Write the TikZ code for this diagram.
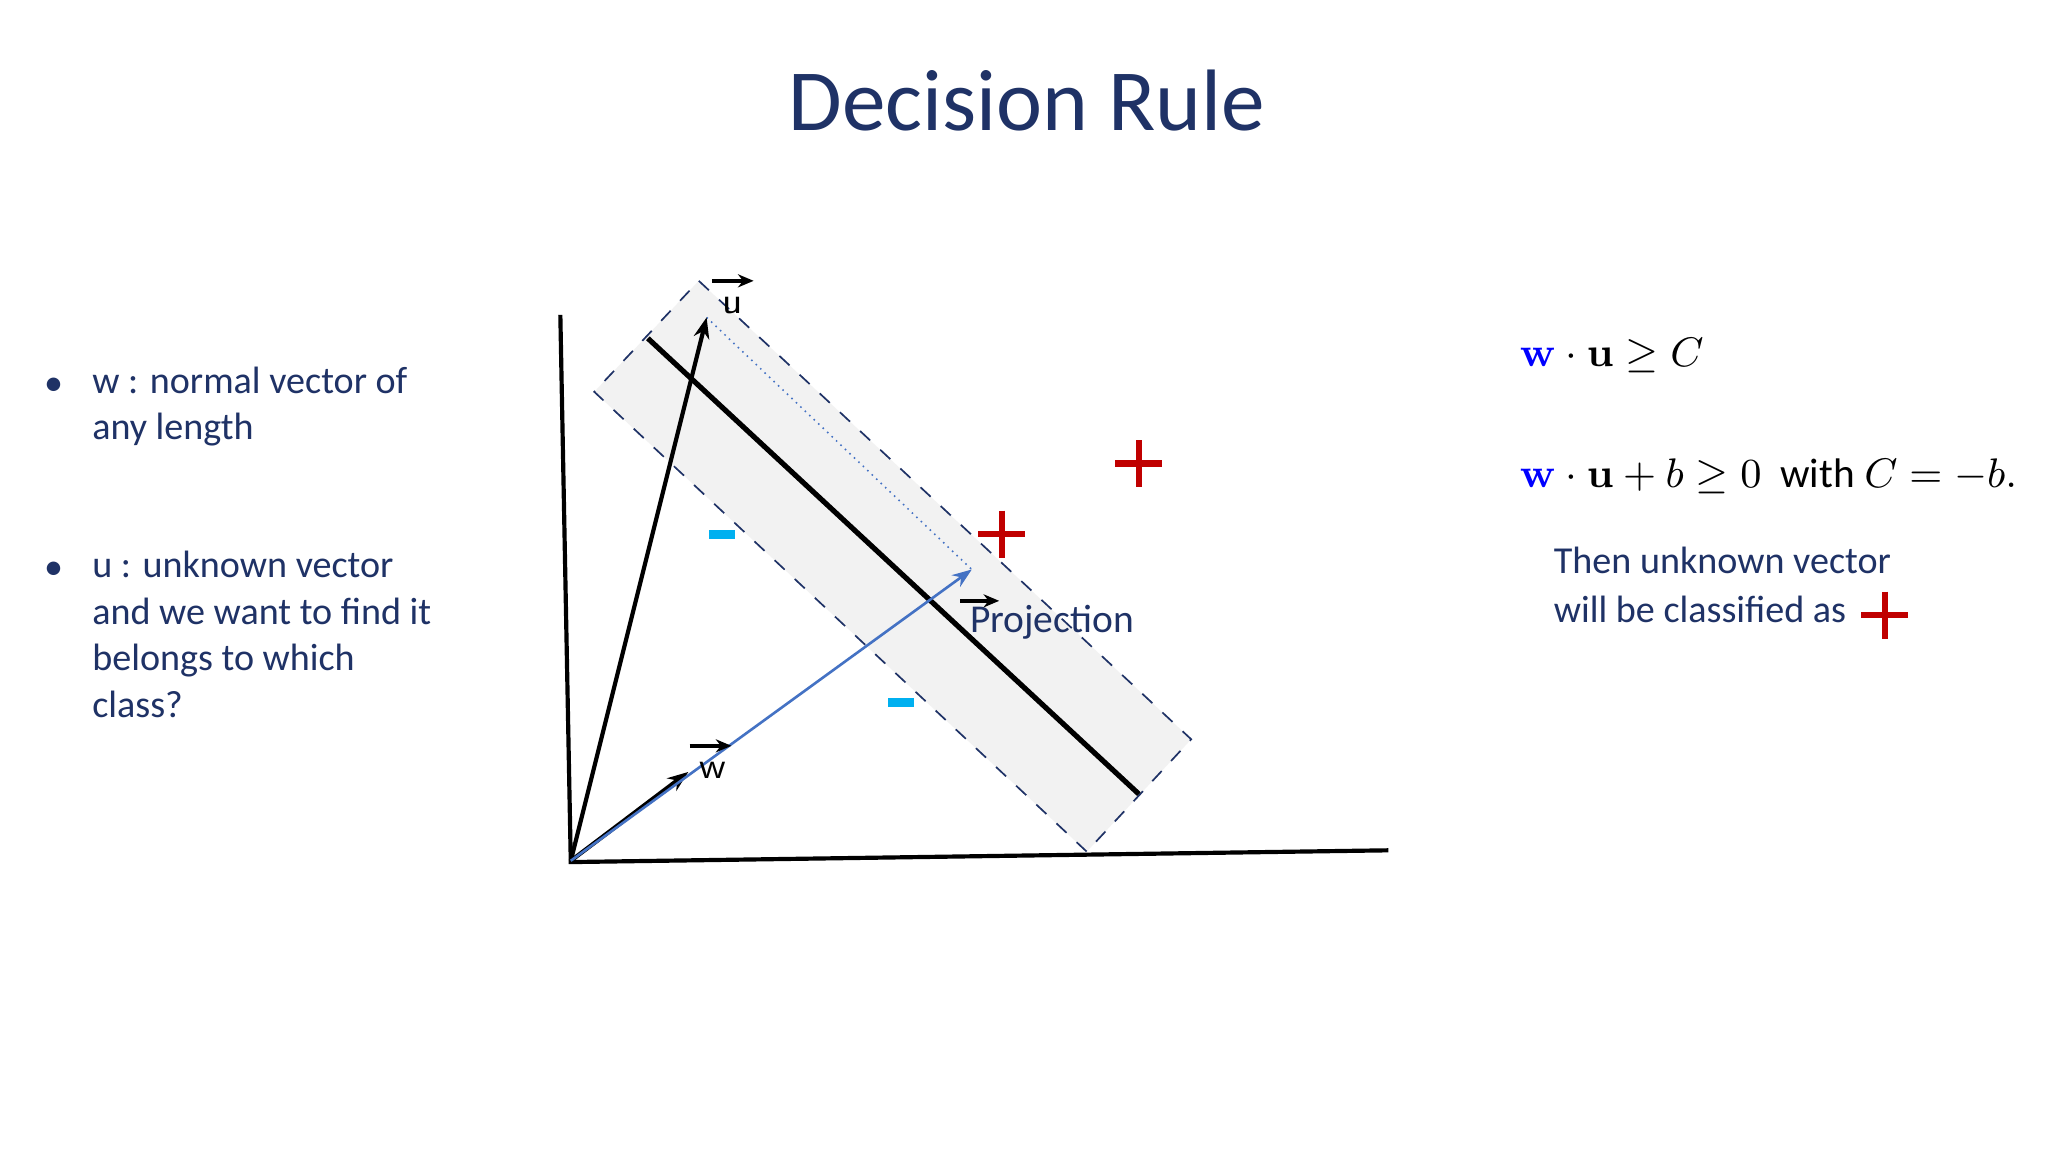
\documentclass[tikz,border=0pt]{standalone}
\usepackage[no-math]{fontspec}
\setmainfont{Carlito}
\usetikzlibrary{arrows.meta}
\definecolor{navy}{HTML}{1F3266}
\definecolor{myred}{HTML}{C00000}
\definecolor{cyanb}{HTML}{00B0F0}
\definecolor{bluel}{HTML}{4472C4}
\tikzset{
 txt/.style={text=navy,font=\fontsize{8.3}{10.2}\selectfont,anchor=west,inner sep=0,align=left},
 plus/.style={myred,line width=0.5mm},
 minus/.style={fill=cyanb,draw=none,minimum width=0.2cm,minimum height=0.07cm,inner sep=0},
 vec/.style={-{Stealth[length=1.6mm,width=1.2mm]},line width=0.32mm},
 small/.style={-{Stealth[length=1.2mm,width=1mm]},line width=0.3mm}
}
\newcommand{\plusat}[3]{\draw[plus] (#1-#3,#2) -- (#1+#3,#2) (#1,#2-#3) -- (#1,#2+#3);}
\begin{document}
\begin{tikzpicture}[x=1cm,y=-1cm]
\useasboundingbox[fill=white] (0,0) rectangle (15.68,8.82);
\node[text=navy,font=\fontsize{19}{20}\selectfont,inner sep=0] (title) at (7.86,0.77) {Decision Rule};
% bullets
\node[txt] (b1) at (0.33,2.96) {•};
\node[txt,anchor=north west] (t1) at (0.70,2.80) {w : normal vector of\\any length};
\node[txt] (b2) at (0.33,4.37) {•};
\node[txt,anchor=north west] (t2) at (0.70,4.21) {u : unknown vector\\and we want to find it\\belongs to which\\class?};
% band
\coordinate (c1) at (5.35,2.15); \coordinate (c2) at (9.12,5.66);
\coordinate (c3) at (8.32,6.52); \coordinate (c4) at (4.55,3.00);
\draw[navy,dashed,fill=black!5,line width=0.13mm] (c1)--(c2)--(c3)--(c4)--cycle;
\coordinate (l1) at (4.96,2.59); \coordinate (l2) at (8.72,6.08);
\draw[line width=0.4mm] (l1)--(l2);
% axes
\coordinate (o) at (4.37,6.59);
\coordinate (ytop) at (4.29,2.41); \coordinate (xend) at (10.63,6.51);
\draw[line width=0.32mm] (ytop)--(4.37,6.60)--(xend);
% vectors
\coordinate (ut) at (5.41,2.43); \coordinate (wt) at (5.27,5.91); \coordinate (pt) at (7.44,4.36);
\draw[bluel,densely dotted,line width=0.12mm] (ut)--(pt);
\draw[vec] (o)--(ut);
\draw[vec] (o)--(wt);
\draw[bluel,line width=0.2mm,-{Stealth[length=1.5mm,width=1.1mm]}] (o)--(pt);
% labels
\node[font=\sffamily\fontsize{8}{9}\selectfont,inner sep=0] (ul) at (5.61,2.34) {u};
\draw[small] (5.45,2.15)--(5.77,2.15);
\node[font=\sffamily\fontsize{8}{9}\selectfont,inner sep=0] (wl) at (5.46,5.90) {w};
\draw[small] (5.28,5.71)--(5.60,5.71);
\node[txt,text=navy,font=\fontsize{8.6}{10}\selectfont] (proj) at (7.42,4.76) {Projection};
\draw[small] (7.35,4.60)--(7.65,4.60);
% minus and plus
\node[minus] (m1) at (5.53,4.09) {};
\node[minus] (m2) at (6.90,5.38) {};
\plusat{8.72}{3.55}{0.18}
\plusat{7.67}{4.09}{0.18}
\plusat{14.43}{4.71}{0.18}
% math
\node[anchor=west,inner sep=0,font=\fontsize{9}{11}\selectfont] (e1) at (11.63,2.72) {$\textcolor{blue}{\mathbf{w}}\cdot\mathbf{u}\geq C$};
\node[anchor=west,inner sep=0,font=\fontsize{9}{11}\selectfont] (e2) at (11.63,3.65) {$\textcolor{blue}{\mathbf{w}}\cdot\mathbf{u}+b\geq 0$\ \ with $C=-b.$};
\node[txt,anchor=north west,font=\fontsize{8.3}{10.8}\selectfont] (t3) at (11.89,4.18) {Then unknown vector\\will be classified as};
\end{tikzpicture}
\end{document}
